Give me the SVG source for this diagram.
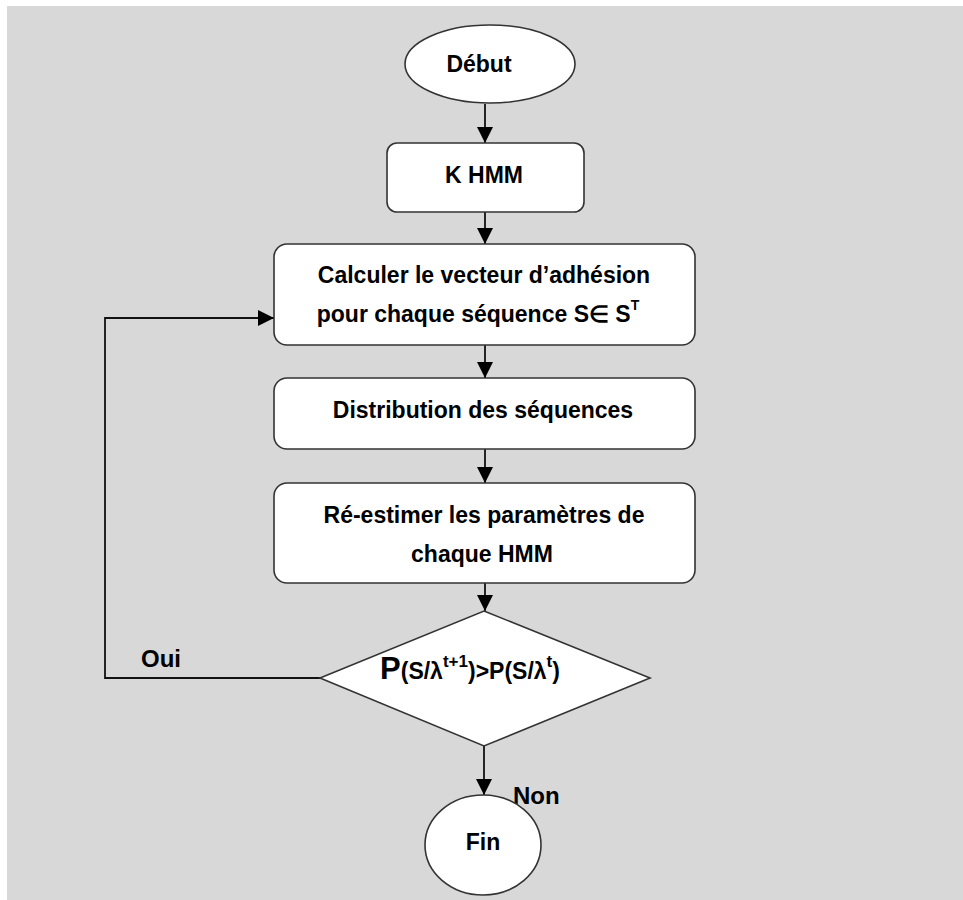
<svg xmlns="http://www.w3.org/2000/svg" width="963" height="900" viewBox="0 0 963 900">
<defs>
<marker id="arr" markerWidth="16" markerHeight="16" refX="16" refY="8" orient="auto" markerUnits="userSpaceOnUse">
<path d="M0,0 L16,8 L0,16 Z" fill="#000"/>
</marker>
<style>
.shape{fill:#fff;stroke:#333;stroke-width:1.6}
.t{font-family:"Liberation Sans",Arial,sans-serif;font-weight:bold;font-size:23px;fill:#000;text-anchor:middle}
.lbl{font-family:"Liberation Sans",Arial,sans-serif;font-weight:bold;font-size:24px;fill:#000}
.c{fill:none;stroke:#111;stroke-width:1.8}
</style>
</defs>
<rect x="0" y="0" width="963" height="900" fill="#fff"/>
<rect x="7" y="6" width="956" height="894" fill="#d8d8d8"/>
<g id="connectors">
<line class="c" x1="485" y1="104" x2="485" y2="143" marker-end="url(#arr)"/>
<line class="c" x1="485" y1="212" x2="485" y2="244" marker-end="url(#arr)"/>
<line class="c" x1="485" y1="345" x2="485" y2="378" marker-end="url(#arr)"/>
<line class="c" x1="485" y1="449" x2="485" y2="483" marker-end="url(#arr)"/>
<line class="c" x1="485" y1="583" x2="485" y2="611" marker-end="url(#arr)"/>
<line class="c" x1="484" y1="746" x2="484" y2="795" marker-end="url(#arr)"/>
<polyline class="c" points="320,678 105,678 105,318 274,318" marker-end="url(#arr)"/>
<text class="lbl" x="141" y="667">Oui</text>
<text class="lbl" x="513" y="804" font-size="25">Non</text>
</g>
<g id="debut">
<ellipse class="shape" cx="490" cy="64" rx="85" ry="39"/>
<text class="t" x="479" y="72">Début</text>
</g>
<g id="khmm">
<rect class="shape" x="387" y="143" width="197" height="69" rx="10"/>
<text class="t" x="484" y="183" font-size="24">K HMM</text>
</g>
<g id="calculer">
<rect class="shape" x="274" y="244" width="421" height="101" rx="13"/>
<text class="t" x="484" y="283">Calculer le vecteur d’adhésion</text>
<text class="t" x="478" y="322">pour chaque séquence S∈ S<tspan font-size="14" dy="-12">T</tspan></text>
</g>
<g id="distribution">
<rect class="shape" x="274" y="378" width="421" height="71" rx="13"/>
<text class="t" x="483" y="418">Distribution des séquences</text>
</g>
<g id="reestimer">
<rect class="shape" x="274" y="483" width="421" height="100" rx="13"/>
<text class="t" x="484" y="523">Ré-estimer les paramètres de</text>
<text class="t" x="482" y="562">chaque HMM</text>
</g>
<g id="decision">
<polygon class="shape" points="484,611 650,678 484,746 320,678"/>
<text class="t" x="470" y="679" font-size="27"><tspan font-size="31">P</tspan>(S/λ<tspan font-size="17" dy="-12">t+1</tspan><tspan dy="12">)&gt;P(S/λ</tspan><tspan font-size="17" dy="-12">t</tspan><tspan dy="12">)</tspan></text>
</g>
<g id="fin">
<ellipse class="shape" cx="483" cy="845" rx="58" ry="50"/>
<text class="t" x="483" y="850" font-size="28">Fin</text>
</g>
</svg>
